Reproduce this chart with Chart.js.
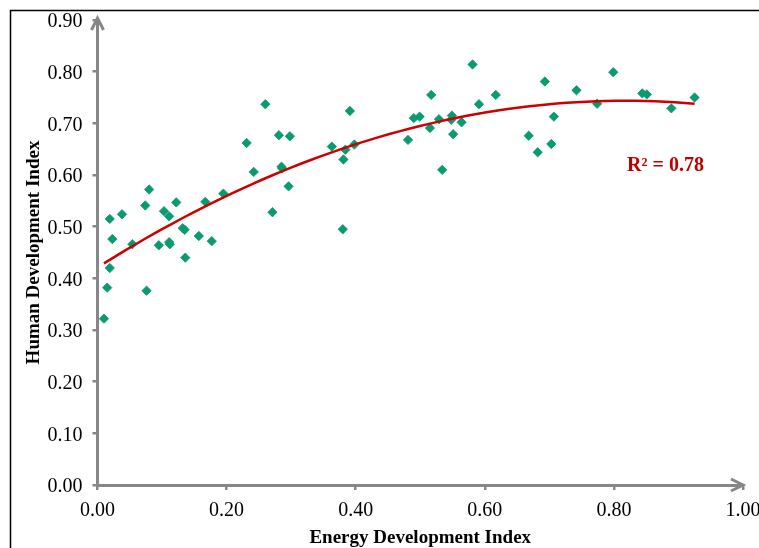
<!DOCTYPE html>
<html>
<head>
<meta charset="utf-8">
<script src="https://cdn.jsdelivr.net/npm/chart.js@4.4.1/dist/chart.umd.min.js"></script>
<style>
  html, body { margin: 0; padding: 0; background: #fff; }
  #wrap { width: 759px; height: 548px; position: relative; }
</style>
</head>
<body>
<div id="wrap"><canvas id="chart" width="759" height="548"></canvas></div>
<script>
// Energy Development Index (x) against Human Development Index (y)
const edi = [0.010, 0.015, 0.019, 0.023, 0.019, 0.038, 0.054, 0.074, 0.076, 0.080,
             0.095, 0.103, 0.111, 0.111, 0.112, 0.122, 0.132, 0.135, 0.136, 0.157,
             0.167, 0.177, 0.195, 0.231, 0.242, 0.260, 0.271, 0.281, 0.285, 0.286,
             0.296, 0.298, 0.363, 0.380, 0.381, 0.384, 0.391, 0.398, 0.481, 0.490,
             0.499, 0.515, 0.517, 0.529, 0.534, 0.548, 0.549, 0.551, 0.564, 0.581,
             0.591, 0.617, 0.668, 0.682, 0.693, 0.703, 0.707, 0.742, 0.774, 0.799,
             0.844, 0.851, 0.889, 0.925];
const hdi = [0.322, 0.382, 0.420, 0.476, 0.515, 0.524, 0.466, 0.541, 0.376, 0.572,
             0.464, 0.530, 0.520, 0.470, 0.466, 0.547, 0.497, 0.494, 0.440, 0.482,
             0.548, 0.472, 0.564, 0.662, 0.606, 0.737, 0.528, 0.677, 0.616, 0.613,
             0.578, 0.675, 0.655, 0.495, 0.630, 0.649, 0.724, 0.659, 0.668, 0.710,
             0.713, 0.691, 0.755, 0.708, 0.610, 0.707, 0.715, 0.679, 0.702, 0.814,
             0.737, 0.755, 0.676, 0.644, 0.781, 0.660, 0.713, 0.764, 0.738, 0.799,
             0.758, 0.756, 0.729, 0.750];
const rSquaredLabel = 'R² = 0.78';
const xTitle = 'Energy Development Index';
const yTitle = 'Human Development Index';

const axisGrey = '#878787';
const serif = "'Liberation Serif', 'Times New Roman', serif";

// 2nd order polynomial least squares fit (the trendline)
function polyFit2(xs, ys) {
    let n = xs.length, sx = 0, sx2 = 0, sx3 = 0, sx4 = 0, sy = 0, sxy = 0, sx2y = 0;
    for (let i = 0; i < n; i++) {
        const x = xs[i], y = ys[i];
        sx += x; sx2 += x * x; sx3 += x * x * x; sx4 += x * x * x * x;
        sy += y; sxy += x * y; sx2y += x * x * y;
    }
    const m = [[n, sx, sx2, sy], [sx, sx2, sx3, sxy], [sx2, sx3, sx4, sx2y]];
    for (let c = 0; c < 3; c++) {
        for (let r = c + 1; r < 3; r++) {
            const f = m[r][c] / m[c][c];
            for (let k = c; k < 4; k++) m[r][k] -= f * m[c][k];
        }
    }
    const b = [0, 0, 0];
    for (let r = 2; r >= 0; r--) {
        let s = m[r][3];
        for (let k = r + 1; k < 3; k++) s -= m[r][k] * b[k];
        b[r] = s / m[r][r];
    }
    return b;
}

const coef = polyFit2(edi, hdi);
const xMin = Math.min(...edi), xMax = Math.max(...edi);
const trend = [];
for (let i = 0; i <= 60; i++) {
    const x = xMin + (xMax - xMin) * i / 60;
    trend.push({ x: x, y: coef[0] + coef[1] * x + coef[2] * x * x });
}
const points = edi.map((x, i) => ({ x: x, y: hdi[i] }));

const decor = {
    id: 'decor',
    beforeDraw(chart) {
        const ctx = chart.ctx;
        ctx.save();
        ctx.fillStyle = '#fff';
        ctx.fillRect(0, 0, chart.width, chart.height);
        ctx.strokeStyle = '#000';
        ctx.lineWidth = 1.5;
        ctx.strokeRect(10.5, 10.5, 900, 700);
        ctx.restore();
    },
    afterDraw(chart) {
        const ctx = chart.ctx;
        const a = chart.chartArea;
        ctx.save();
        ctx.strokeStyle = axisGrey;
        ctx.lineWidth = 3;
        ctx.lineCap = 'butt';
        // y axis arrow
        ctx.beginPath();
        ctx.moveTo(a.left, a.top + 1);
        ctx.lineTo(a.left, a.top - 2);
        ctx.stroke();
        ctx.beginPath();
        ctx.moveTo(a.left - 6, a.top + 10);
        ctx.lineTo(a.left, a.top - 2);
        ctx.lineTo(a.left + 6, a.top + 10);
        ctx.stroke();
        // x axis arrow
        ctx.beginPath();
        ctx.moveTo(a.right - 12, a.bottom - 6);
        ctx.lineTo(a.right, a.bottom);
        ctx.lineTo(a.right - 12, a.bottom + 6);
        ctx.stroke();
        // R squared label
        const xs = chart.scales.x, ys = chart.scales.y;
        ctx.fillStyle = '#c00000';
        ctx.font = 'bold 20px ' + serif;
        ctx.textAlign = 'center';
        ctx.textBaseline = 'middle';
        ctx.fillText(rSquaredLabel, xs.getPixelForValue(0.880), ys.getPixelForValue(0.617));
        ctx.restore();
    }
};

new Chart(document.getElementById('chart'), {
    type: 'scatter',
    data: {
        datasets: [
            {
                label: 'HDI',
                data: points,
                pointStyle: 'rectRot',
                pointRadius: 4.7,
                pointHoverRadius: 4.7,
                backgroundColor: '#009f6b',
                borderColor: '#2a8a86',
                borderWidth: 0.8,
                order: 1
            },
            {
                type: 'line',
                label: 'Poly. (HDI)',
                data: trend,
                borderColor: '#cc0000',
                borderWidth: 2.5,
                pointRadius: 0,
                tension: 0,
                fill: false,
                order: 0
            }
        ]
    },
    options: {
        responsive: false,
        animation: false,
        events: [],
        layout: { padding: { left: 10, top: 20, right: 16, bottom: 0 } },
        plugins: { legend: { display: false }, tooltip: { enabled: false } },
        scales: {
            x: {
                type: 'linear',
                min: 0, max: 1,
                afterFit(s) { s.height = 63; s.paddingLeft = 0; s.paddingRight = 0; },
                ticks: {
                    stepSize: 0.2,
                    padding: 9,
                    color: '#000',
                    font: { family: serif, size: 20 },
                    maxRotation: 0,
                    callback: v => v.toFixed(2)
                },
                grid: { drawOnChartArea: false, drawTicks: true, tickLength: 5, color: axisGrey, lineWidth: 2.5 },
                border: { display: true, color: axisGrey, width: 3 },
                title: {
                    display: true,
                    text: xTitle,
                    color: '#000',
                    font: { family: serif, size: 19, weight: 'bold' },
                    padding: { top: 0, bottom: -1 }
                }
            },
            y: {
                type: 'linear',
                min: 0, max: 0.9,
                afterFit(s) { s.width = 87.5; s.paddingTop = 0; s.paddingBottom = 0; },
                ticks: {
                    stepSize: 0.1,
                    padding: 10,
                    labelOffset: 2,
                    color: '#000',
                    font: { family: serif, size: 20 },
                    callback: v => v.toFixed(2)
                },
                grid: { drawOnChartArea: false, drawTicks: true, tickLength: 5, color: axisGrey, lineWidth: 2.5 },
                border: { display: true, color: axisGrey, width: 3 },
                title: {
                    display: true,
                    text: yTitle,
                    color: '#000',
                    font: { family: serif, size: 19, weight: 'bold' },
                    padding: { top: 13, bottom: 0 }
                }
            }
        }
    },
    plugins: [decor]
});
</script>
</body>
</html>
